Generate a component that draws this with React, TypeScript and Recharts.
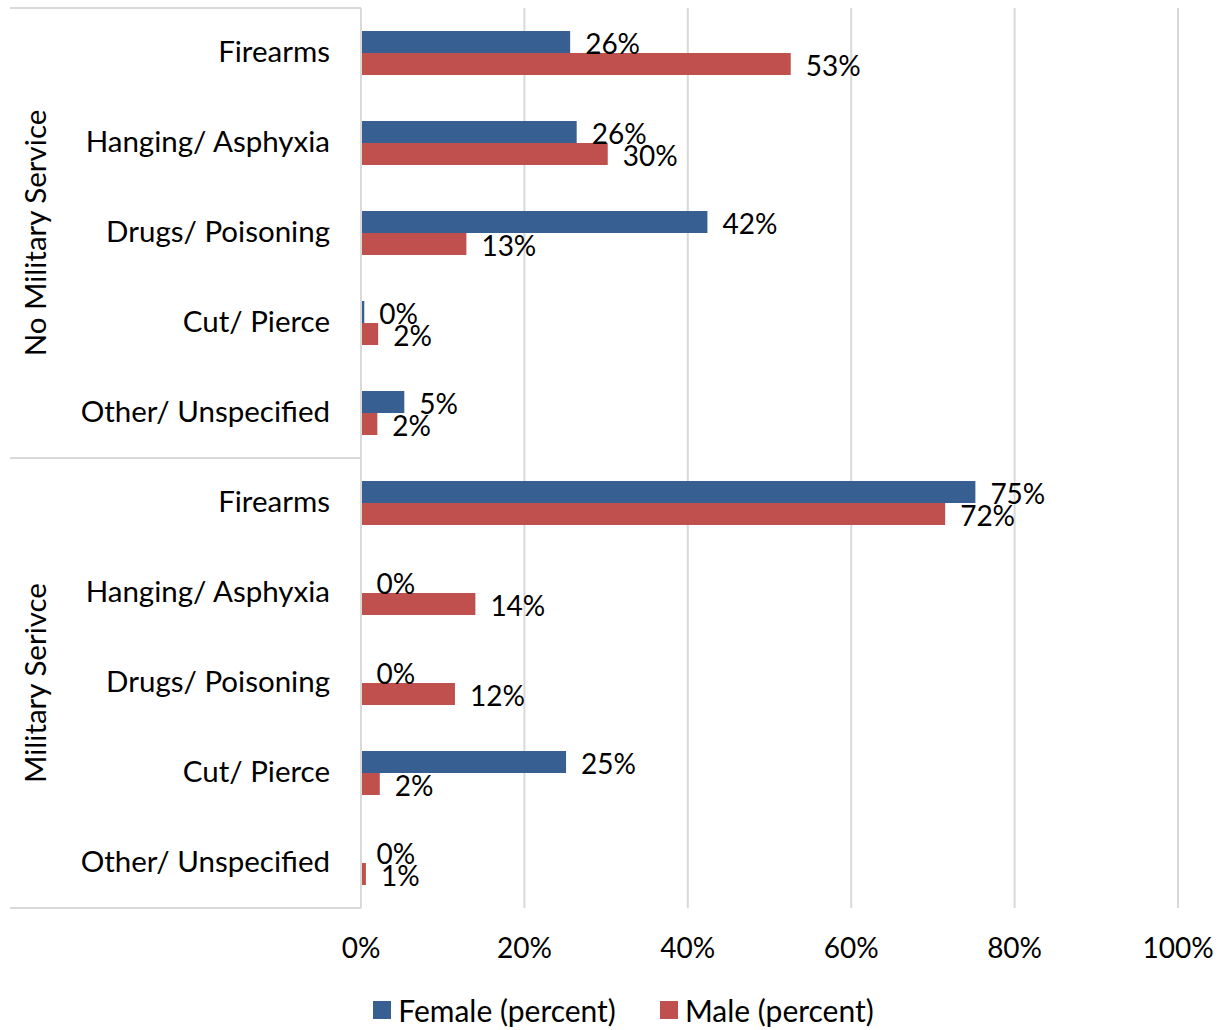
import { BarChart, Bar, XAxis, YAxis, CartesianGrid, Legend, LabelList } from "recharts";

const categories = [
  "Firearms",
  "Hanging/ Asphyxia",
  "Drugs/ Poisoning",
  "Cut/ Pierce",
  "Other/ Unspecified",
  "Firearms",
  "Hanging/ Asphyxia",
  "Drugs/ Poisoning",
  "Cut/ Pierce",
  "Other/ Unspecified",
];
const groups = ["No Military Service", "Military Serivce"];
// the "0%" bars are near-zero, not empty
const female = [25.6, 26.4, 42.4, 0.4, 5.3, 75.2, 0.05, 0.05, 25.1, 0.05];
const male = [52.6, 30.2, 12.9, 2.1, 2.0, 71.5, 14.0, 11.5, 2.3, 0.6];
const xTicks = [0, 20, 40, 60, 80, 100];

const FONT = "Lato, 'Open Sans', sans-serif";
const BLUE = "#375f92";
const RED = "#c0504d";
const GRID = "#d9d9d9";

const data = categories.map((c, i) => ({ id: String(i), name: c, female: female[i], male: male[i] }));

const pct = (v: any) => `${Math.round(Number(v))}%`;

function CatTick(props: any) {
  const { y, index } = props;
  const band = 90;
  return (
    <g>
      <text x={330} y={y - 3} textAnchor="end" dominantBaseline="central" fontSize={29.5} fill="#000" fontFamily={FONT}>
        {categories[index]}
      </text>
      {index % 5 === 0 && (
        <line x1={10} x2={361} y1={y - band / 2} y2={y - band / 2} stroke={GRID} strokeWidth={2} />
      )}
      {index === categories.length - 1 && (
        <line x1={10} x2={361} y1={y + band / 2} y2={y + band / 2} stroke={GRID} strokeWidth={2} />
      )}
      {index % 5 === 2 && (
        <text
          x={34}
          y={y}
          transform={`rotate(-90 34 ${y})`}
          textAnchor="middle"
          dominantBaseline="central"
          fontSize={29.5}
          fill="#000"
          fontFamily={FONT}
        >
          {groups[Math.floor(index / 5)]}
        </text>
      )}
    </g>
  );
}

function LegendBox() {
  const items = [
    { label: "Female (percent)", color: BLUE },
    { label: "Male (percent)", color: RED },
  ];
  return (
    <div style={{ display: "flex", justifyContent: "center", gap: 44, fontFamily: FONT, fontSize: 30, paddingLeft: 24, paddingTop: 2 }}>
      {items.map((it) => (
        <div key={it.label} style={{ display: "flex", alignItems: "center" }}>
          <span style={{ display: "inline-block", width: 18, height: 18, background: it.color, marginRight: 7 }} />
          <span>{it.label}</span>
        </div>
      ))}
    </div>
  );
}

export default function App() {
  return (
    <div style={{ position: "absolute", left: 0, top: 0, background: "#fff" }}>
      <BarChart
        width={1223}
        height={1030}
        data={data}
        layout="vertical"
        margin={{ top: 8, right: 45, left: 0, bottom: 0 }}
        barGap={0}
        barSize={22}
      >
        <CartesianGrid horizontal={false} vertical stroke={GRID} strokeWidth={2} />
        <XAxis
          type="number"
          domain={[0, 100]}
          ticks={xTicks}
          tickFormatter={pct}
          axisLine={false}
          tickLine={false}
          height={82}
          tickMargin={24}
          tick={{ fontSize: 28, fill: "#000", fontFamily: FONT }}
        />
        <YAxis
          type="category"
          dataKey="id"
          width={361}
          interval={0}
          tickLine={false}
          axisLine={{ stroke: GRID, strokeWidth: 2 }}
          tick={<CatTick />}
        />
        <Legend
          verticalAlign="bottom"
          height={40}
          wrapperStyle={{ left: 0, width: 1223 }}
          content={() => <LegendBox />}
        />
        <Bar dataKey="female" name="Female (percent)" fill={BLUE} isAnimationActive={false}>
          <LabelList dataKey="female" position="right" offset={15} formatter={pct} fontSize={28} fill="#000" fontFamily={FONT} dy={2} />
        </Bar>
        <Bar dataKey="male" name="Male (percent)" fill={RED} isAnimationActive={false}>
          <LabelList dataKey="male" position="right" offset={15} formatter={pct} fontSize={28} fill="#000" fontFamily={FONT} dy={2} />
        </Bar>
      </BarChart>
    </div>
  );
}
